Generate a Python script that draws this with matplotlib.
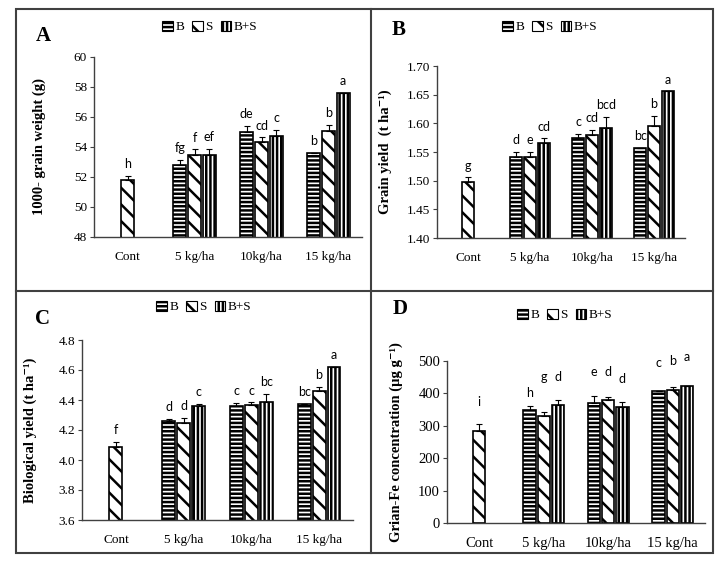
import numpy as np
import matplotlib
matplotlib.use("Agg")
import matplotlib.pyplot as plt
from matplotlib.patches import Rectangle, Patch
from matplotlib.lines import Line2D

plt.rcParams['font.family'] = ['Liberation Serif', 'DejaVu Serif']
plt.rcParams['hatch.linewidth'] = 1.8
plt.rcParams['hatch.color'] = 'black'

categories = ['Cont', '5 kg/ha', '10kg/ha', '15 kg/ha']
series = ['B', 'S', 'B+S']
nan = np.nan

# A: 1000-grain weight
a_vals = {'B': [nan, 52.8, 55.0, 53.6], 'S': [51.8, 53.5, 54.35, 55.1], 'B+S': [nan, 53.5, 54.75, 57.6]}
a_errs = {'B': [0, 0.35, 0.4, 0], 'S': [0.3, 0.35, 0.3, 0.4], 'B+S': [0, 0.4, 0.4, 0]}
a_lets = {'B': ['', 'fg', 'de', 'b'], 'S': ['h', 'f', 'cd', 'b'], 'B+S': ['', 'ef', 'c', 'a']}

# B: grain yield
b_vals = {'B': [nan, 1.541, 1.574, 1.557], 'S': [1.498, 1.541, 1.580, 1.596], 'B+S': [nan, 1.566, 1.592, 1.656]}
b_errs = {'B': [0, 0.009, 0.008, 0], 'S': [0.008, 0.009, 0.009, 0.017], 'B+S': [0, 0.008, 0.019, 0]}
b_lets = {'B': ['', 'd', 'c', 'bc'], 'S': ['g', 'e', 'cd', 'b'], 'B+S': ['', 'cd', 'bcd', 'a']}

# C: biological yield
c_vals = {'B': [nan, 4.26, 4.36, 4.375], 'S': [4.09, 4.25, 4.37, 4.46], 'B+S': [nan, 4.36, 4.39, 4.62]}
c_errs = {'B': [0, 0.015, 0.02, 0], 'S': [0.03, 0.03, 0.015, 0.03], 'B+S': [0, 0.015, 0.05, 0]}
c_lets = {'B': ['', 'd', 'c', 'bc'], 'S': ['f', 'd', 'c', 'b'], 'B+S': ['', 'c', 'bc', 'a']}

# D: grain Fe concentration
d_vals = {'B': [nan, 350, 370, 408], 'S': [285, 330, 380, 410], 'B+S': [nan, 365, 358, 422]}
d_errs = {'B': [0, 10, 22, 0], 'S': [22, 12, 8, 10], 'B+S': [0, 15, 15, 0]}
d_lets = {'B': ['', 'h', 'e', 'c'], 'S': ['i', 'g', 'd', 'b'], 'B+S': ['', 'd', 'd', 'a']}
# letter heights in panel D (data units), placed freely in the original
d_let_y = {'B': [nan, 401, 467, 493], 'S': [374, 451, 467, 501], 'B+S': [nan, 451, 444, 513]}

hatches = {'B': '----', 'S': '\\\\', 'B+S': '||||'}
offsets = {'B': -0.22, 'S': 0.0, 'B+S': 0.22}
width = 0.19

W, H = 721, 567
fig = plt.figure(figsize=(W / 100, H / 100), dpi=100)


def px_axes(l, t, r, b):
    return fig.add_axes([l / W, 1 - b / H, (r - l) / W, (b - t) / H])


def draw_panel(ax, vals, errs, lets, ylim, step, fmt, ylabel, let_y=None, tick_fs=9.5):
    x = np.arange(len(categories))
    for s in series:
        v = np.array(vals[s], dtype=float)
        e = np.array(errs[s], dtype=float)
        ax.bar(x + offsets[s], v, width, color='white', edgecolor='black',
               hatch=hatches[s], linewidth=1.2, zorder=2)
        ok = ~np.isnan(v)
        ax.errorbar((x + offsets[s])[ok], v[ok], yerr=[np.zeros(ok.sum()), e[ok]],
                    fmt='none', ecolor='black', elinewidth=0.8, capsize=2.5,
                    capthick=0.8, zorder=3)
        for i in range(len(categories)):
            if not lets[s][i]:
                continue
            if let_y is not None:
                ax.text(x[i] + offsets[s], let_y[s][i], lets[s][i], ha='center',
                        va='center', fontsize=9, family='Lato', clip_on=False)
            else:
                ax.annotate(lets[s][i], (x[i] + offsets[s], v[i] + e[i]),
                            xytext=(0, 4), textcoords='offset points',
                            ha='center', va='bottom', fontsize=9, family='Lato',
                            annotation_clip=False)
    ax.set_xlim(-0.5, len(categories) - 0.5)
    ax.set_ylim(*ylim)
    ax.set_yticks(np.arange(ylim[0], ylim[1] + step / 2, step))
    ax.yaxis.set_major_formatter(plt.FormatStrFormatter(fmt))
    ax.set_xticks(x)
    ax.set_xticklabels(categories)
    ax.tick_params(axis='x', length=0, pad=10, labelsize=tick_fs)
    ax.tick_params(axis='y', length=3, width=0.8, color='#404040', labelsize=tick_fs, pad=2)
    for sp in ('top', 'right'):
        ax.spines[sp].set_visible(False)
    for sp in ('left', 'bottom'):
        ax.spines[sp].set_color('#404040')
        ax.spines[sp].set_linewidth(1.0)
    ax.set_ylabel(ylabel, fontweight='bold', fontsize=10.5)


axA = px_axes(94, 57, 362, 237)
draw_panel(axA, a_vals, a_errs, a_lets, (48, 60), 2, '%d', '1000- grain weight (g)')
axA.yaxis.set_label_coords(-0.18, 0.5)

axB = px_axes(437, 66, 685, 238)
draw_panel(axB, b_vals, b_errs, b_lets, (1.40, 1.70), 0.05, '%.2f', 'Grain yield  (t ha⁻¹)')
axB.yaxis.set_label_coords(-0.18, 0.5)

axC = px_axes(82, 340, 353, 520)
draw_panel(axC, c_vals, c_errs, c_lets, (3.6, 4.8), 0.2, '%.1f', 'Biological yield (t ha⁻¹)')
axC.yaxis.set_label_coords(-0.165, 0.5)

axD = px_axes(447, 361, 705, 523)
draw_panel(axD, d_vals, d_errs, d_lets, (0, 500), 100, '%d', 'Grian-Fe concentration (µg g⁻¹)',
           let_y=d_let_y, tick_fs=10.5)
axD.yaxis.set_label_coords(-0.17, 0.5)

# legends and panel letters
handles = [Patch(facecolor='white', edgecolor='black', hatch=hatches[s], linewidth=0.8) for s in series]
for cx, cy in [(210, 27), (550, 27), (204, 307), (565, 315)]:
    fig.legend(handles, series, loc='center', bbox_to_anchor=(cx / W, 1 - cy / H),
               ncol=3, frameon=False, fontsize=9.5, handlelength=0.8, handleheight=0.8,
               handletextpad=0.2, columnspacing=0.6, borderpad=0)

for lab, lx, ly in [('A', 36, 36), ('B', 392, 30), ('C', 35, 319), ('D', 393, 309)]:
    fig.text(lx / W, 1 - ly / H, lab, fontsize=15, fontweight='bold', va='center', ha='left')

# panel frames
fig.add_artist(Rectangle((16 / W, 1 - 553 / H), 697 / W, 544 / H, transform=fig.transFigure,
                         fill=False, edgecolor='#404040', linewidth=1.5))
fig.add_artist(Line2D([371 / W, 371 / W], [1 - 553 / H, 1 - 9 / H], transform=fig.transFigure,
                      color='#404040', linewidth=1.5))
fig.add_artist(Line2D([16 / W, 713 / W], [1 - 291 / H, 1 - 291 / H], transform=fig.transFigure,
                      color='#404040', linewidth=1.5))

fig.savefig('out.png', dpi=100)
